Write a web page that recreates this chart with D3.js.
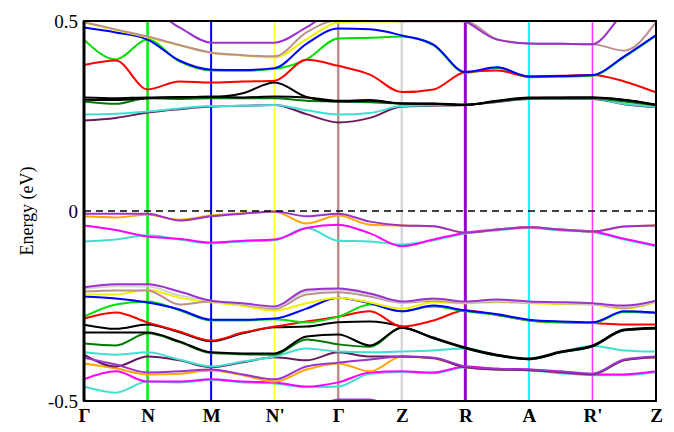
<!DOCTYPE html>
<html>
<head>
<meta charset="utf-8">
<script src="https://cdn.jsdelivr.net/npm/d3@7"></script>
<style>
  body { margin: 0; background: #fff; }
  svg { display: block; }
</style>
</head>
<body>
<div id="canvas"></div>
<script>
// k-path: high symmetry points and the sample grid (in segment units)
const kLabels = ["Γ", "N", "M", "N'", "Γ", "Z", "R", "A", "R'", "Z"];
const kTicks = [0, 1, 2, 3, 4, 5, 6, 7, 8, 9];
const kGrid = [0, 0.5, 1, 1.5, 2, 2.5, 3, 3.5, 4, 4.5, 5, 5.5, 6, 6.5, 7, 7.5, 8, 8.5, 9];
const yTicks = [0.5, 0, -0.5];
const yTickLabels = ["0.5", "0", "-0.5"];

// conduction bands (eV)
const cbPlum      = [0.238,0.245,0.259,0.268,0.275,0.277,0.279,0.255,0.233,0.245,0.275,0.277,0.279,0.287,0.295,0.295,0.295,0.281,0.273];
const cbCyan      = [0.254,0.256,0.262,0.270,0.276,0.277,0.279,0.265,0.254,0.258,0.276,0.278,0.280,0.288,0.296,0.296,0.296,0.282,0.274];
const cbDarkGreen = [0.288,0.282,0.297,0.295,0.297,0.297,0.297,0.290,0.288,0.286,0.283,0.281,0.279,0.289,0.297,0.297,0.297,0.288,0.278];
const cbBlack2    = [0.293,0.292,0.297,0.300,0.300,0.310,0.338,0.300,0.288,0.290,0.283,0.282,0.279,0.289,0.297,0.298,0.299,0.292,0.279];
const cbBlack1    = [0.299,0.297,0.299,0.299,0.301,0.299,0.301,0.299,0.290,0.292,0.283,0.283,0.280,0.290,0.299,0.299,0.299,0.293,0.280];
const cbGreen     = [0.451,0.399,0.451,0.394,0.370,0.369,0.374,0.399,0.454,0.456,0.459,0.436,0.364,0.376,0.352,0.353,0.356,0.405,0.461];
const cbRed       = [0.384,0.396,0.320,0.341,0.338,0.341,0.343,0.398,0.382,0.359,0.313,0.320,0.366,0.370,0.354,0.356,0.358,0.341,0.312];
const cbBlue      = [0.483,0.470,0.451,0.396,0.372,0.371,0.376,0.440,0.480,0.478,0.462,0.438,0.366,0.378,0.354,0.355,0.358,0.407,0.463];
const cbYellow    = [0.496,0.476,0.457,0.436,0.416,0.409,0.404,0.452,0.496,0.499,0.499,0.510,0.520,0.530,0.530,0.530,0.530,0.520,0.510];
const cbBrown     = [0.497,0.478,0.459,0.437,0.417,0.410,0.407,0.470,0.502,0.502,0.499,0.499,0.499,0.452,0.441,0.440,0.439,0.422,0.497];
const cbPurple    = [0.530,0.530,0.530,0.483,0.443,0.443,0.443,0.483,0.530,0.530,0.530,0.530,0.499,0.451,0.441,0.440,0.439,0.520,0.550];

// bands just below the Fermi level
const vbCyan    = [-0.080,-0.075,-0.064,-0.075,-0.085,-0.080,-0.077,-0.045,-0.078,-0.080,-0.088,-0.077,-0.059,-0.051,-0.045,-0.051,-0.056,-0.075,-0.093];
const vbMagenta = [-0.038,-0.050,-0.067,-0.073,-0.083,-0.078,-0.075,-0.045,-0.036,-0.059,-0.093,-0.075,-0.057,-0.049,-0.043,-0.049,-0.054,-0.073,-0.091];
const vbOrange  = [-0.014,-0.017,-0.010,-0.023,-0.012,-0.006,-0.002,-0.033,-0.012,-0.036,-0.038,-0.040,-0.057,-0.049,-0.043,-0.049,-0.054,-0.041,-0.038];
const vbPurple  = [-0.007,-0.007,-0.007,-0.025,-0.014,-0.007,-0.001,-0.014,-0.007,-0.028,-0.038,-0.040,-0.057,-0.049,-0.043,-0.049,-0.054,-0.041,-0.038];

// lower valence bands
const lbDeep      = [-0.497,-0.530,-0.560,-0.580,-0.580,-0.580,-0.560,-0.530,-0.496,-0.496,-0.540,-0.580,-0.580,-0.580,-0.580,-0.580,-0.580,-0.580,-0.580];
const lbCyan2     = [-0.462,-0.478,-0.449,-0.451,-0.445,-0.451,-0.454,-0.464,-0.462,-0.428,-0.424,-0.427,-0.411,-0.417,-0.419,-0.427,-0.432,-0.432,-0.424];
const lbMagenta   = [-0.443,-0.422,-0.449,-0.449,-0.443,-0.449,-0.451,-0.462,-0.451,-0.425,-0.422,-0.425,-0.409,-0.415,-0.417,-0.425,-0.430,-0.430,-0.422];
const lbOrange    = [-0.401,-0.414,-0.430,-0.428,-0.420,-0.432,-0.449,-0.417,-0.401,-0.422,-0.383,-0.388,-0.411,-0.417,-0.419,-0.424,-0.430,-0.393,-0.385];
const lbPlum      = [-0.378,-0.409,-0.383,-0.393,-0.411,-0.398,-0.385,-0.393,-0.372,-0.383,-0.383,-0.387,-0.411,-0.417,-0.419,-0.424,-0.430,-0.393,-0.385];
const lbViolet    = [-0.386,-0.404,-0.425,-0.422,-0.417,-0.430,-0.443,-0.409,-0.399,-0.391,-0.383,-0.386,-0.409,-0.415,-0.417,-0.422,-0.428,-0.391,-0.383];
const lbCyan      = [-0.372,-0.378,-0.372,-0.391,-0.409,-0.396,-0.383,-0.362,-0.370,-0.372,-0.370,-0.367,-0.362,-0.379,-0.389,-0.371,-0.355,-0.367,-0.370];
const lbDarkGreen = [-0.349,-0.354,-0.322,-0.345,-0.374,-0.377,-0.378,-0.338,-0.351,-0.357,-0.307,-0.335,-0.361,-0.380,-0.390,-0.372,-0.356,-0.314,-0.309];
const lbBlackB    = [-0.320,-0.320,-0.320,-0.343,-0.372,-0.375,-0.375,-0.330,-0.325,-0.354,-0.307,-0.335,-0.361,-0.380,-0.390,-0.372,-0.356,-0.314,-0.309];
const lbBlackA    = [-0.299,-0.310,-0.299,-0.319,-0.343,-0.322,-0.306,-0.304,-0.293,-0.291,-0.304,-0.333,-0.359,-0.378,-0.388,-0.370,-0.354,-0.312,-0.307];
const lbRed       = [-0.283,-0.267,-0.293,-0.317,-0.341,-0.320,-0.304,-0.291,-0.278,-0.264,-0.304,-0.288,-0.262,-0.274,-0.288,-0.293,-0.295,-0.299,-0.299];
const lbGreen     = [-0.278,-0.246,-0.238,-0.261,-0.288,-0.288,-0.285,-0.293,-0.278,-0.246,-0.264,-0.251,-0.264,-0.274,-0.288,-0.293,-0.295,-0.266,-0.269];
const lbBlue      = [-0.225,-0.230,-0.241,-0.259,-0.286,-0.286,-0.283,-0.257,-0.228,-0.243,-0.264,-0.249,-0.262,-0.272,-0.286,-0.291,-0.293,-0.264,-0.267];
const lbYellow    = [-0.220,-0.220,-0.207,-0.228,-0.240,-0.250,-0.262,-0.243,-0.228,-0.241,-0.257,-0.240,-0.243,-0.240,-0.243,-0.245,-0.247,-0.257,-0.240];
const lbBrown     = [-0.212,-0.209,-0.209,-0.246,-0.238,-0.246,-0.257,-0.220,-0.214,-0.225,-0.241,-0.236,-0.241,-0.238,-0.241,-0.243,-0.245,-0.255,-0.238];
const lbGray      = [-0.205,-0.198,-0.199,-0.222,-0.237,-0.245,-0.254,-0.212,-0.207,-0.220,-0.240,-0.233,-0.240,-0.236,-0.240,-0.242,-0.245,-0.252,-0.238];
const lbPurple    = [-0.201,-0.193,-0.193,-0.212,-0.236,-0.243,-0.251,-0.207,-0.204,-0.217,-0.238,-0.230,-0.238,-0.233,-0.238,-0.240,-0.243,-0.249,-0.236];

// colours
const C = {
  black: "#000000", red: "#ff0000", green: "#00e000", blue: "#0000ff",
  yellow: "#f0f000", brown: "#bc8f8f", purple: "#9a32cd", dkgreen: "#007a00",
  cyan: "#40e0d0", plum: "#6a1b5e", orange: "#ffa500", magenta: "#ff00ff",
  gray: "#d3d3d3"
};

// drawing order: first is at the bottom
const bands = [
  [cbPlum, C.plum], [cbCyan, C.cyan], [cbDarkGreen, C.dkgreen], [cbBlack2, C.black], [cbBlack1, C.black],
  [cbGreen, C.green], [cbRed, C.red], [cbBlue, C.blue], [cbYellow, C.yellow], [cbBrown, C.brown], [cbPurple, C.purple],
  [vbCyan, C.cyan], [vbMagenta, C.magenta], [vbOrange, C.orange], [vbPurple, C.purple],
  [lbDeep, C.purple], [lbCyan2, C.cyan], [lbMagenta, C.magenta], [lbOrange, C.orange], [lbPlum, C.plum],
  [lbViolet, C.purple], [lbCyan, C.cyan], [lbDarkGreen, C.dkgreen], [lbBlackB, C.black], [lbBlackA, C.black],
  [lbRed, C.red], [lbGreen, C.green], [lbBlue, C.blue], [lbYellow, C.yellow], [lbBrown, C.brown],
  [lbGray, C.gray], [lbPurple, C.purple]
];

// vertical lines at the inner k-points
const kLineColors = [null, "#00ee00", "#0000ff", "#ffff33", "#bc8f8f", "#d8d8d8", "#9400d3", "#00ffff", "#ff33ff", null];
const kLineWidths = [0, 2.5, 2, 1.5, 2.5, 2.5, 3, 2, 1.5, 0];

const W = 674, H = 432;
const m = { left: 84, right: 18, top: 21, bottom: 31 };

const svg = d3.select("#canvas").append("svg").attr("width", W).attr("height", H);

const x = d3.scaleLinear().domain([0, 9]).range([m.left, W - m.right]);
const y = d3.scaleLinear().domain([-0.5, 0.5]).range([H - m.bottom, m.top]);

svg.append("clipPath").attr("id", "clip")
  .append("rect")
  .attr("x", x(0)).attr("y", y(0.5))
  .attr("width", x(9) - x(0)).attr("height", y(-0.5) - y(0.5));

const plot = svg.append("g").attr("clip-path", "url(#clip)");

// k-point separators (under the bands)
plot.selectAll(".kline")
  .data(kTicks.filter((k, i) => kLineColors[i]))
  .join("line")
  .attr("class", "kline")
  .attr("x1", d => x(d)).attr("x2", d => x(d))
  .attr("y1", y(0.5)).attr("y2", y(-0.5))
  .attr("stroke", d => kLineColors[d])
  .attr("stroke-width", d => kLineWidths[d]);

const line = d3.line()
  .x((d, i) => x(kGrid[i]))
  .y(d => y(d))
  .curve(d3.curveMonotoneX);

plot.selectAll(".band")
  .data(bands)
  .join("path")
  .attr("class", "band")
  .attr("d", d => line(d[0]))
  .attr("fill", "none")
  .attr("stroke", d => d[1])
  .attr("stroke-width", 2);

// Fermi level
plot.append("line")
  .attr("x1", x(0)).attr("x2", x(9))
  .attr("y1", y(0)).attr("y2", y(0))
  .attr("stroke", "#000")
  .attr("stroke-width", 1.5)
  .attr("stroke-dasharray", "7,5");

// frame
svg.append("rect")
  .attr("x", x(0)).attr("y", y(0.5))
  .attr("width", x(9) - x(0)).attr("height", y(-0.5) - y(0.5))
  .attr("fill", "none")
  .attr("stroke", "#000")
  .attr("stroke-width", 2);

svg.append("line")
  .attr("x1", x(0)).attr("x2", x(0))
  .attr("y1", y(0.5)).attr("y2", y(-0.5))
  .attr("stroke", "#000").attr("stroke-width", 3);

// axes
const xAxis = d3.axisBottom(x).tickValues(kTicks).tickFormat((d, i) => kLabels[i]).tickSize(0).tickPadding(8);
const yAxis = d3.axisLeft(y).tickValues(yTicks).tickFormat((d, i) => yTickLabels[i]).tickSize(0).tickPadding(6);

const gx = svg.append("g").attr("transform", `translate(0,${y(-0.5)})`).call(xAxis);
const gy = svg.append("g").attr("transform", `translate(${x(0)},0)`).call(yAxis);
[gx, gy].forEach(g => {
  g.select(".domain").remove();
  g.selectAll("text")
    .attr("fill", "#000")
    .style("font-family", "'Liberation Serif', 'DejaVu Serif', serif")
    .style("font-size", "19px");
});
gx.selectAll("text").style("font-weight", "bold");

svg.append("text")
  .attr("transform", `translate(33,${y(0)}) rotate(-90)`)
  .attr("text-anchor", "middle")
  .style("font-family", "'Liberation Serif', 'DejaVu Serif', serif")
  .style("font-size", "18px")
  .text("Energy (eV)");
</script>
</body>
</html>
